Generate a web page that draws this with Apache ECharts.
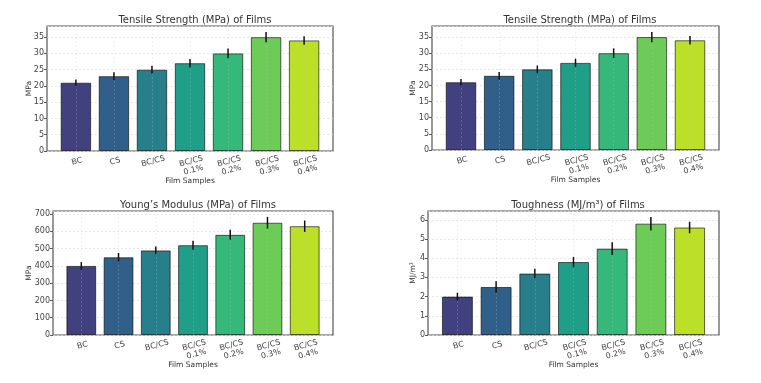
<!DOCTYPE html>
<html>
<head>
<meta charset="utf-8">
<script src="https://cdn.jsdelivr.net/npm/echarts@6/dist/echarts.min.js"></script>
<style>html,body{margin:0;padding:0;background:#fff;}#c{width:761px;height:383px;}</style>
</head>
<body>
<div id="c"></div>
<script>
const categories = ['BC', 'CS', 'BC/CS', 'BC/CS\n0.1%', 'BC/CS\n0.2%', 'BC/CS\n0.3%', 'BC/CS\n0.4%'];
const tensileMeans = [21, 23, 25, 27, 30, 35, 34];
const tensileErrors = [1.0, 1.2, 1.2, 1.3, 1.5, 1.6, 1.3];
const youngMeans = [400, 450, 490, 520, 580, 650, 630];
const youngErrors = [22, 25, 22, 26, 29, 34, 33];
const toughMeans = [2.0, 2.5, 3.2, 3.8, 4.5, 5.8, 5.6];
const toughErrors = [0.2, 0.3, 0.25, 0.27, 0.33, 0.35, 0.3];
const barColors = ['#42417f', '#306089', '#287f8c', '#1f9e88', '#36b87a', '#6dcc58', '#bcdf27'];

const panels = [
  {title: 'Tensile Strength (MPa) of Films', yName: 'MPa', means: tensileMeans, errs: tensileErrors,
   box: {l: 47, r: 333, t: 26, b: 151}, max: 38.43, interval: 5, titleX: 190, titleY: 12},
  {title: 'Tensile Strength (MPa) of Films', yName: 'MPa', means: tensileMeans, errs: tensileErrors,
   box: {l: 432, r: 719, t: 26, b: 150}, max: 38.43, interval: 5, titleX: 575, titleY: 12},
  {title: 'Young\u2019s Modulus (MPa) of Films', yName: 'MPa', means: youngMeans, errs: youngErrors,
   box: {l: 53, r: 333, t: 211, b: 335}, max: 718, interval: 100, titleX: 193, titleY: 197},
  {title: 'Toughness (MJ/m\u00b3) of Films', yName: 'MJ/m\u00b3', means: toughMeans, errs: toughErrors,
   box: {l: 428, r: 719, t: 211, b: 335}, max: 6.46, interval: 1, titleX: 573, titleY: 197}
];
const yNameX = [29, 413, 29, 413];

const font = 'DejaVu Sans';
const grid = [], xAxis = [], yAxis = [], series = [], title = [];
panels.forEach((p, i) => {
  const w = p.box.r - p.box.l, h = p.box.b - p.box.t;
  const padFrac = 0.26 / 7.52;
  grid.push({left: p.box.l, top: p.box.t, width: w, height: h, show: true,
    borderColor: '#555', borderWidth: 1.2, backgroundColor: 'transparent'});
  grid.push({left: p.box.l + w * padFrac, top: p.box.t, width: w * 7 / 7.52, height: h, show: false});
  title.push({text: p.title, left: p.titleX, top: p.titleY - 1.5, textAlign: 'center',
    textStyle: {fontFamily: font, fontSize: 10, fontWeight: 'normal', color: '#333'}});
  xAxis.push({type: 'value', gridIndex: 2 * i, min: 0, max: 1, show: false});
  yAxis.push({type: 'value', gridIndex: 2 * i, min: 0, max: p.max, interval: p.interval,
    name: p.yName, nameLocation: 'middle', nameGap: p.box.l - yNameX[i], nameMoveOverlap: false,
    nameTextStyle: {fontFamily: font, fontSize: 7.5, color: '#333', verticalAlign: 'middle'},
    axisLine: {show: false},
    axisTick: {show: true, length: 3, lineStyle: {color: '#555'}},
    axisLabel: {fontFamily: font, fontSize: 8, color: '#444', margin: 3, showMaxLabel: false},
    splitLine: {show: true, lineStyle: {color: '#ddd', type: [2, 2], width: 0.7}}});
  xAxis.push({type: 'category', gridIndex: 2 * i + 1, data: categories,
    name: 'Film Samples', nameLocation: 'middle', nameGap: 30, nameMoveOverlap: false,
    nameTextStyle: {fontFamily: font, fontSize: 7.5, color: '#333', verticalAlign: 'middle'},
    axisLine: {show: false},
    axisTick: {show: false},
    axisLabel: {fontFamily: font, fontSize: 8, color: '#444', rotate: 15, align: 'center',
      verticalAlign: 'top', margin: 6, lineHeight: 9, interval: 0},
    splitLine: {show: false}});
  yAxis.push({type: 'value', gridIndex: 2 * i + 1, min: 0, max: p.max, show: false});
  series.push({type: 'bar', xAxisIndex: 2 * i + 1, yAxisIndex: 2 * i + 1,
    data: p.means.map((v, k) => ({value: v, itemStyle: {color: barColors[k]}})),
    barCategoryGap: '20%',
    itemStyle: {opacity: 1, borderColor: 'rgba(0,0,0,0.6)', borderWidth: 1},
    markLine: {silent: true, symbol: 'none', label: {show: false},
      lineStyle: {color: 'rgba(200,200,200,0.35)', type: [2, 2], width: 0.7},
      data: categories.map(c => ({xAxis: c}))},
    z: 2});
  series.push({type: 'custom', xAxisIndex: 2 * i + 1, yAxisIndex: 2 * i + 1,
    data: p.means.map((v, k) => [k, v, p.errs[k]]),
    renderItem: function (params, api) {
      const x = api.value(0), v = api.value(1), e = api.value(2);
      const a = api.coord([x, v - e]), b = api.coord([x, v + e]);
      return {type: 'line', shape: {x1: a[0], y1: a[1], x2: b[0], y2: b[1]},
        style: {stroke: '#111', lineWidth: 1.5}};
    }, z: 5});
});

const chart = echarts.init(document.getElementById('c'), null, {renderer: 'canvas'});
chart.setOption({animation: false, backgroundColor: '#fff', title, grid, xAxis, yAxis, series});
</script>
</body>
</html>
